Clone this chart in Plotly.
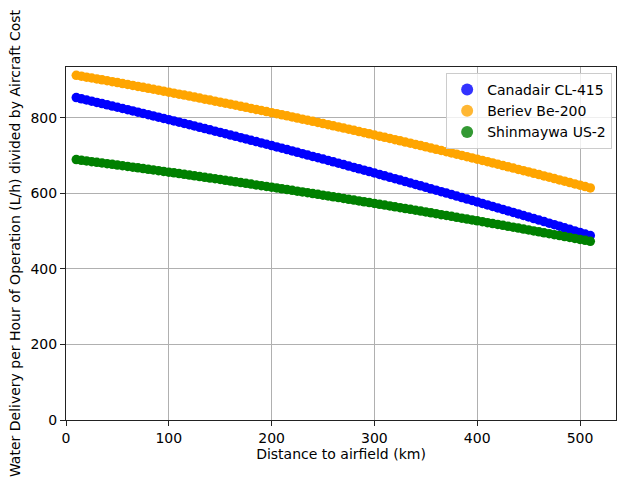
import plotly.graph_objects as go

distance_km = list(range(10, 515, 5))

canadair_cl415 = [
    853.0, 849.8, 846.7, 843.5, 840.3, 837.1, 833.9, 830.7, 827.5, 824.2,
    821.0, 817.7, 814.5, 811.2, 807.9, 804.6, 801.3, 798.0, 794.7, 791.3,
    788.0, 784.6, 781.3, 777.9, 774.5, 771.1, 767.7, 764.3, 760.9, 757.4,
    754.0, 750.5, 747.1, 743.6, 740.1, 736.6, 733.1, 729.6, 726.1, 722.5,
    719.0, 715.4, 711.9, 708.3, 704.7, 701.1, 697.5, 693.9, 690.3, 686.6,
    683.0, 679.3, 675.7, 672.0, 668.3, 664.6, 660.9, 657.2, 653.5, 649.7,
    646.0, 642.2, 638.5, 634.7, 630.9, 627.1, 623.3, 619.5, 615.7, 611.8,
    608.0, 604.1, 600.3, 596.4, 592.5, 588.6, 584.7, 580.8, 576.9, 572.9,
    569.0, 565.0, 561.1, 557.1, 553.1, 549.1, 545.1, 541.1, 537.1, 533.0,
    529.0, 524.9, 520.9, 516.8, 512.7, 508.6, 504.5, 500.4, 496.3, 492.1,
    488.0,
]

beriev_be200 = [
    912.0, 909.6, 907.2, 904.9, 902.4, 900.0, 897.6, 895.1, 892.7, 890.2,
    887.7, 885.2, 882.7, 880.2, 877.7, 875.1, 872.6, 870.0, 867.4, 864.8,
    862.2, 859.6, 857.0, 854.4, 851.7, 849.0, 846.4, 843.7, 841.0, 838.2,
    835.5, 832.8, 830.0, 827.3, 824.5, 821.7, 818.9, 816.1, 813.2, 810.4,
    807.6, 804.7, 801.8, 798.9, 796.0, 793.1, 790.2, 787.3, 784.3, 781.3,
    778.4, 775.4, 772.4, 769.4, 766.4, 763.3, 760.3, 757.2, 754.1, 751.1,
    748.0, 744.9, 741.7, 738.6, 735.5, 732.3, 729.1, 726.0, 722.7, 719.5,
    716.3, 713.1, 709.8, 706.6, 703.3, 700.0, 696.7, 693.4, 690.1, 686.8,
    683.4, 680.1, 676.7, 673.3, 669.9, 666.5, 663.1, 659.7, 656.3, 652.8,
    649.3, 645.9, 642.4, 638.9, 635.3, 631.8, 628.3, 624.7, 621.2, 617.6,
    614.0,
]

shinmaywa_us2 = [
    689.0, 687.2, 685.4, 683.6, 681.8, 680.0, 678.2, 676.4, 674.6, 672.7,
    670.9, 669.0, 667.1, 665.3, 663.4, 661.5, 659.6, 657.7, 655.8, 653.9,
    652.0, 650.0, 648.1, 646.1, 644.2, 642.2, 640.2, 638.3, 636.3, 634.3,
    632.3, 630.3, 628.2, 626.2, 624.2, 622.1, 620.1, 618.0, 616.0, 613.9,
    611.8, 609.7, 607.6, 605.5, 603.4, 601.3, 599.2, 597.0, 594.9, 592.7,
    590.6, 588.4, 586.2, 584.0, 581.9, 579.7, 577.4, 575.2, 573.0, 570.8,
    568.6, 566.3, 564.1, 561.8, 559.5, 557.3, 555.0, 552.7, 550.4, 548.1,
    545.8, 543.4, 541.1, 538.8, 536.4, 534.1, 531.7, 529.4, 527.0, 524.6,
    522.2, 519.8, 517.4, 515.0, 512.6, 510.1, 507.7, 505.2, 502.8, 500.3,
    497.9, 495.4, 492.9, 490.4, 487.9, 485.4, 482.9, 480.4, 477.8, 475.3,
    472.8,
]

series = [
    ("Canadair CL-415", canadair_cl415, "#0000ff"),
    ("Beriev Be-200", beriev_be200, "#ffa500"),
    ("Shinmaywa US-2", shinmaywa_us2, "#008000"),
]

x_tick_vals = [0, 100, 200, 300, 400, 500]
y_tick_vals = [0, 200, 400, 600, 800]

fig = go.Figure()
for name, vals, color in series:
    fig.add_trace(go.Scatter(
        x=distance_km, y=vals, mode="markers", name=name, showlegend=False,
        marker=dict(color=color, size=9.5, opacity=1.0, line=dict(width=0)),
    ))
# legend entries (semi-transparent dots like the reference legend)
for name, vals, color in series:
    fig.add_trace(go.Scatter(
        x=[None], y=[None], mode="markers", name=name, showlegend=True,
        marker=dict(color=color, size=9, opacity=0.8, line=dict(width=0)),
    ))

font = dict(family="DejaVu Sans", size=14, color="black")
axis_common = dict(
    showline=True, linecolor="#222222", linewidth=1, mirror=True,
    ticks="outside", ticklen=5, tickcolor="#222222", tickwidth=1,
    showgrid=True, gridcolor="#b0b0b0", gridwidth=1, zeroline=False,
    tickfont=font,
)

fig.update_layout(
    width=617, height=480,
    margin=dict(l=66, r=1, t=67, b=60),
    paper_bgcolor="white", plot_bgcolor="white",
    font=font,
    xaxis=dict(range=[0, 535], tickvals=x_tick_vals,
               title=dict(text="Distance to airfield (km)", font=font, standoff=4),
               **axis_common),
    yaxis=dict(range=[0, 934], tickvals=y_tick_vals,
               title=dict(text="Water Delivery per Hour of Operation (L/h) divided by Aircraft Cost",
                          font=font, standoff=6),
               **axis_common),
    legend=dict(x=0.993, y=0.983, xanchor="right", yanchor="top",
                bgcolor="rgba(255,255,255,0.8)", bordercolor="#cccccc", borderwidth=1,
                font=font, itemsizing="constant", tracegroupgap=0),
    showlegend=True,
)

fig.write_html("out.html")
